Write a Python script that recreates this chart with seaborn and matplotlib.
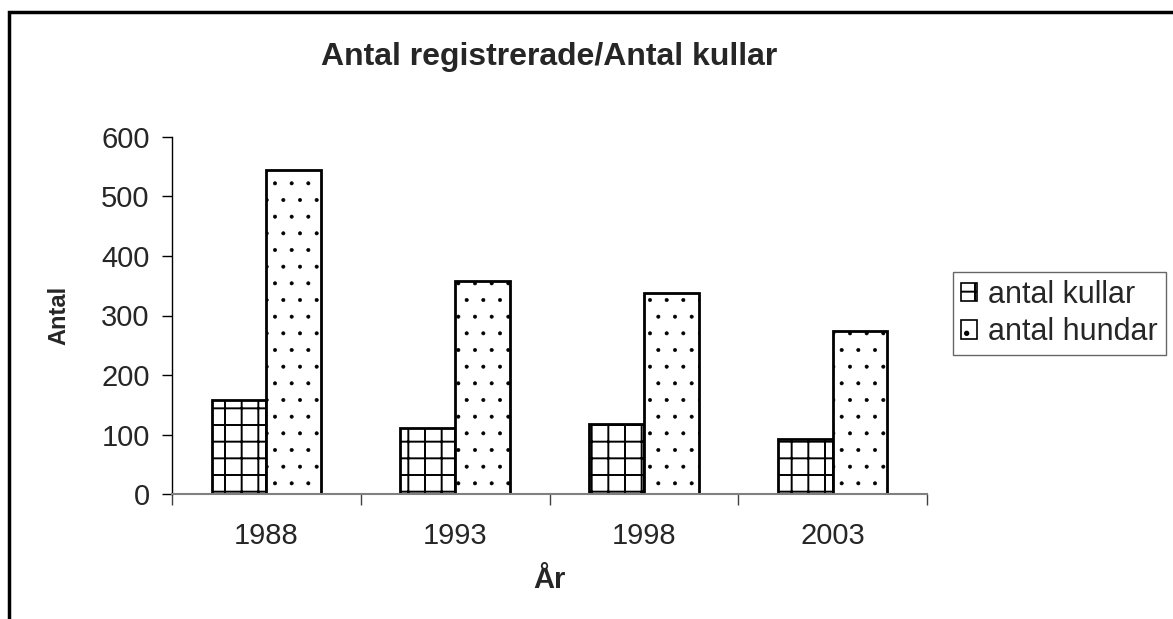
import pandas as pd
import matplotlib
matplotlib.use('Agg')
import matplotlib.pyplot as plt
import seaborn as sns
from matplotlib.patches import Patch, Rectangle

# data
years = ['1988', '1993', '1998', '2003']
antal_kullar = [158, 111, 118, 92]
antal_hundar = [545, 358, 338, 274]
series_names = ['antal kullar', 'antal hundar']

df = pd.DataFrame({
    'year': years * 2,
    'value': antal_kullar + antal_hundar,
    'series': [series_names[0]] * len(years) + [series_names[1]] * len(years),
})

sns.set_style('white')
plt.rcParams['font.family'] = ['Liberation Sans', 'DejaVu Sans']
plt.rcParams['hatch.linewidth'] = 1.4

fig = plt.figure(figsize=(11.73, 6.19), dpi=100)
ax = fig.add_axes([172 / 1173, 1 - 494 / 619, (927 - 172) / 1173, (494 - 137) / 619])

sns.barplot(data=df, x='year', y='value', hue='series', hue_order=series_names,
            order=years, width=0.58, palette=['white', 'white'],
            edgecolor='black', linewidth=2, saturation=1, legend=False, ax=ax)

hatches = ['+', '.']
hatch_lw = [1.4, 0.4]


def style_hatch(p, h, lw):
    p.set_hatch(h)
    if hasattr(p, 'set_hatch_linewidth'):
        p.set_hatch_linewidth(lw)


for cont, h, lw in zip(ax.containers, hatches, hatch_lw):
    for bar in cont:
        style_hatch(bar, h, lw)

ax.set_ylim(0, 600)
ax.set_xlim(-0.5, 3.5)
ax.set_yticks(range(0, 601, 100))
ax.tick_params(axis='y', direction='out', length=7, width=1, color='black',
               labelsize=21, pad=9, left=True)
ax.set_xticks([-0.5, 0.5, 1.5, 2.5, 3.5], minor=True)
ax.tick_params(axis='x', which='major', length=0, labelsize=21, pad=20)
ax.tick_params(axis='x', which='minor', direction='out', length=8, width=1,
               color='#404040', bottom=True)

for s in ['top', 'right']:
    ax.spines[s].set_visible(False)
ax.spines['left'].set_color('black')
ax.spines['left'].set_linewidth(1)
ax.spines['bottom'].set_color('#808080')
ax.spines['bottom'].set_linewidth(1.5)

ax.set_xlabel('År', fontsize=21, fontweight='bold', labelpad=12)
ax.set_ylabel('Antal', fontsize=17, fontweight='bold', labelpad=22)
fig.text(549 / 1173, 1 - 57 / 619, 'Antal registrerade/Antal kullar',
         ha='center', va='center', fontsize=23, fontweight='bold')

handles = []
for h, lw in zip(hatches, hatch_lw):
    p = Patch(facecolor='white', edgecolor='black', linewidth=1.2)
    style_hatch(p, h, lw)
    handles.append(p)
leg = fig.legend(handles, series_names, loc='upper left',
                 bbox_to_anchor=(953 / 1173, 1 - 272 / 619), fontsize=22,
                 frameon=True, fancybox=False, edgecolor='#404040',
                 handlelength=0.55, handleheight=0.55, handletextpad=0.35,
                 borderpad=0.25, labelspacing=0.25, borderaxespad=0)
leg.get_frame().set_linewidth(1)

fig.patches.append(Rectangle((9 / 1173, -0.1), 1.5, 1.1 - 12 / 619, fill=False,
                             edgecolor='black', linewidth=2.5,
                             transform=fig.transFigure, figure=fig))

fig.savefig('out.png', dpi=100)
